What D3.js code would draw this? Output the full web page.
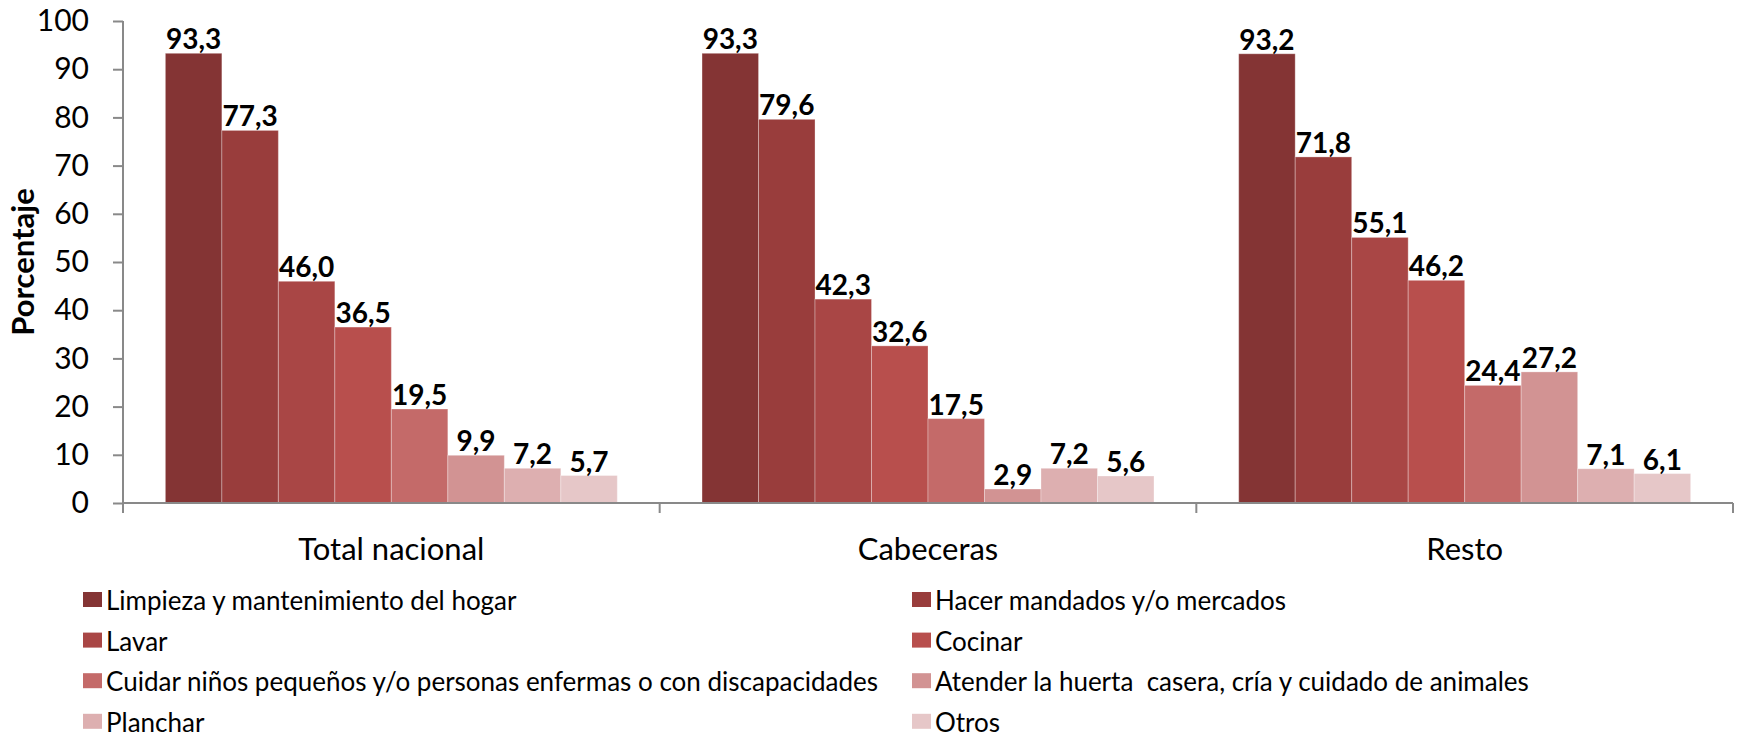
<!DOCTYPE html>
<html>
<head>
<meta charset="utf-8">
<script src="https://cdn.jsdelivr.net/npm/d3@7"></script>
<style>
  body { margin: 0; background: #fff; }
  text { font-family: Lato, "Open Sans", sans-serif; }
</style>
</head>
<body>
<script>
var width = 1739;
var height = 743;

// data
var groups = ["Total nacional", "Cabeceras", "Resto"];
var activities = [
  "Limpieza y mantenimiento del hogar",
  "Hacer mandados y/o mercados",
  "Lavar",
  "Cocinar",
  "Cuidar niños pequeños y/o personas enfermas o con discapacidades",
  "Atender la huerta  casera, cría y cuidado de animales",
  "Planchar",
  "Otros"
];
var totalNacional = [93.3, 77.3, 46.0, 36.5, 19.5, 9.9, 7.2, 5.7];
var cabeceras = [93.3, 79.6, 42.3, 32.6, 17.5, 2.9, 7.2, 5.6];
var resto = [93.2, 71.8, 55.1, 46.2, 24.4, 27.2, 7.1, 6.1];
var yTicks = [0, 10, 20, 30, 40, 50, 60, 70, 80, 90, 100];
var colors = ["#843434", "#993d3c", "#a94645", "#b84f4d", "#c46a69", "#d29393", "#ddafb0", "#e6c7c8"];

var values = [totalNacional, cabeceras, resto];

var plot = {left: 123, right: 1733, top: 21, bottom: 503};

var svg = d3.select("body").append("svg")
  .attr("width", width)
  .attr("height", height);

var y = d3.scaleLinear().domain([0, 100]).range([plot.bottom, plot.top]);
var x0 = d3.scaleBand().domain(groups).range([plot.left, plot.right]);
// excel style gap: 150% of one bar, split on both sides
var x1 = d3.scaleBand().domain(d3.range(activities.length))
  .range([0, x0.bandwidth()])
  .paddingInner(0)
  .paddingOuter(0.75);
var color = d3.scaleOrdinal().domain(d3.range(activities.length)).range(colors);

// bars
var g = svg.selectAll("g.grp")
  .data(groups)
  .enter().append("g")
  .attr("class", "grp")
  .attr("transform", function(d) { return "translate(" + x0(d) + ",0)"; });

g.selectAll("rect")
  .data(function(d, i) { return values[i].map(function(v, j) { return {k: j, v: v}; }); })
  .enter().append("rect")
  .attr("x", function(d) { return x1(d.k); })
  .attr("y", function(d) { return y(d.v); })
  .attr("width", x1.bandwidth())
  .attr("height", function(d) { return y(0) - y(d.v); })
  .attr("fill", function(d) { return color(d.k); })
  .attr("stroke", "#ffffff")
  .attr("stroke-opacity", 0.3)
  .attr("stroke-width", 1);

g.selectAll("text.lbl")
  .data(function(d, i) { return values[i].map(function(v, j) { return {k: j, v: v}; }); })
  .enter().append("text")
  .attr("class", "lbl")
  .attr("x", function(d) { return x1(d.k) + x1.bandwidth() / 2; })
  .attr("y", function(d) { return y(d.v) - 4; })
  .attr("text-anchor", "middle")
  .style("font-size", "28px")
  .style("font-weight", "bold")
  .text(function(d) { return d.v.toFixed(1).replace(".", ","); });

// y axis
var yAxis = svg.append("g")
  .attr("transform", "translate(" + plot.left + ",0)")
  .call(d3.axisLeft(y).tickValues(yTicks).tickSize(10).tickPadding(24));
yAxis.select(".domain").attr("stroke", "#898989").attr("stroke-width", 2).attr("d", "M0," + plot.top + "V" + (plot.bottom + 10));
yAxis.selectAll(".tick line").attr("stroke", "#898989").attr("stroke-width", 2);
yAxis.selectAll(".tick text")
  .attr("fill", "#000")
  .style("font-size", "30px")
  .style("font-family", "Lato, sans-serif");

// x axis
var xAxis = svg.append("g")
  .attr("transform", "translate(0," + plot.bottom + ")");
xAxis.append("line")
  .attr("x1", plot.left).attr("x2", plot.right)
  .attr("stroke", "#898989").attr("stroke-width", 2);
xAxis.selectAll("line.sep")
  .data(groups.concat(["end"]))
  .enter().append("line")
  .attr("class", "sep")
  .attr("x1", function(d, i) { return plot.left + i * x0.bandwidth(); })
  .attr("x2", function(d, i) { return plot.left + i * x0.bandwidth(); })
  .attr("y1", 0).attr("y2", 10)
  .attr("stroke", "#898989").attr("stroke-width", 2);
xAxis.selectAll("text")
  .data(groups)
  .enter().append("text")
  .attr("x", function(d) { return x0(d) + x0.bandwidth() / 2; })
  .attr("y", 57)
  .attr("text-anchor", "middle")
  .style("font-size", "31px")
  .text(function(d) { return d; });

// y title
svg.append("text")
  .attr("transform", "translate(34,262) rotate(-90)")
  .attr("text-anchor", "middle")
  .style("font-size", "31px")
  .style("font-weight", "bold")
  .text("Porcentaje");

// legend, two columns
var legX = [83, 912];
var legY = 610;
var legStep = 40.6;
var leg = svg.selectAll("g.leg")
  .data(activities)
  .enter().append("g")
  .attr("class", "leg")
  .attr("transform", function(d, i) {
    return "translate(" + legX[i % 2] + "," + (legY + Math.floor(i / 2) * legStep) + ")";
  });
leg.append("rect")
  .attr("x", 0).attr("y", -18)
  .attr("width", 19).attr("height", 15)
  .attr("fill", function(d, i) { return color(i); });
leg.append("text")
  .attr("x", 23)
  .attr("y", 0)
  .style("font-size", "26px")
  .style("white-space", "pre")
  .text(function(d) { return d; });
</script>
</body>
</html>
